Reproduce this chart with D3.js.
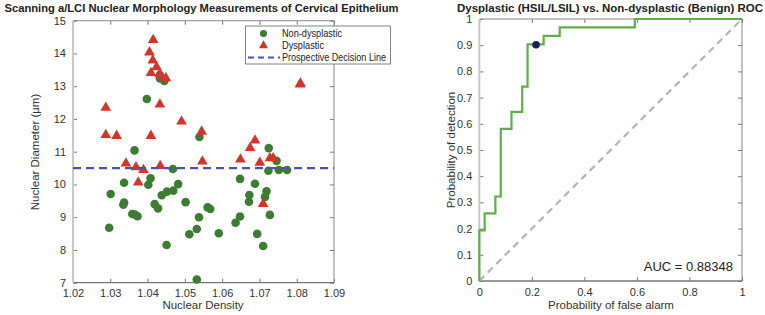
<!DOCTYPE html>
<html>
<head>
<meta charset="utf-8">
<script src="https://cdn.jsdelivr.net/npm/d3@7"></script>
<style>
  body { margin: 0; background: #fff; }
  text { font-family: "Liberation Sans", Arial, sans-serif; }
</style>
</head>
<body>
<div id="chart"></div>
<script>
// scatter data
const nonDysX = [1.0433, 1.0433, 1.0445, 1.0398, 1.0365, 1.0539, 1.0468, 1.0337, 1.0408, 1.0402,
    1.0482, 1.0301, 1.0438, 1.0452, 1.0469, 1.0502, 1.0335, 1.0337, 1.0419, 1.0428,
    1.0359, 1.0366, 1.0373, 1.0538, 1.0297, 1.0532, 1.0512, 1.0591, 1.0451, 1.0532,
    1.0561, 1.0568, 1.0725, 1.0746, 1.0724, 1.0752, 1.0774, 1.0648, 1.0688, 1.0673,
    1.0719, 1.0715, 1.0672, 1.0648, 1.0636, 1.0728, 1.0694, 1.0710];
const nonDysY = [13.34, 13.24, 13.16, 12.61, 11.04, 11.45, 10.47, 10.05, 10.19, 9.99,
    10.01, 9.71, 9.67, 9.78, 9.81, 9.46, 9.38, 9.45, 9.40, 9.27,
    9.10, 9.08, 9.03, 9.00, 8.68, 8.64, 8.48, 8.51, 8.15, 7.10,
    9.30, 9.25, 11.11, 10.72, 10.42, 10.44, 10.44, 10.17, 10.02, 9.68,
    9.79, 9.62, 9.47, 9.02, 8.83, 9.07, 8.49, 8.12];

const dysX = [1.0415, 1.0405, 1.0414, 1.0424, 1.0409, 1.0433, 1.0449, 1.0433, 1.0288, 1.0288,
    1.0317, 1.0409, 1.0491, 1.0545, 1.0547, 1.0342, 1.0369, 1.0389, 1.0434, 1.0375,
    1.0809, 1.0810, 1.0688, 1.0675, 1.0649, 1.0728, 1.0737, 1.0701, 1.0710];
const dysY = [14.43, 14.05, 13.80, 13.60, 13.42, 13.39, 13.26, 12.46, 12.36, 11.53,
    11.50, 11.50, 11.94, 11.63, 10.72, 10.66, 10.54, 10.46, 10.58, 10.08,
    13.07, 13.10, 11.36, 11.13, 10.78, 10.82, 10.82, 10.68, 9.42];

const decisionLine = 10.5;

const scatterXTicks = [1.02, 1.03, 1.04, 1.05, 1.06, 1.07, 1.08, 1.09];
const scatterYTicks = [7, 8, 9, 10, 11, 12, 13, 14, 15];
const legendLabels = ["Non-dysplastic", "Dysplastic", "Prospective Decision Line"];

// ROC curve (false alarm / detection)
const rocFpr = [0, 0, 1/49, 1/49, 3/49, 3/49, 4/49, 4/49, 6/49, 6/49, 8/49, 8/49, 9/49, 9/49,
    12/49, 12/49, 15/49, 15/49, 29/49, 29/49, 1];
const rocTpr = [0, 6/31, 6/31, 8/31, 8/31, 10/31, 10/31, 18/31, 18/31, 20/31, 20/31, 23/31, 23/31, 28/31,
    28/31, 29/31, 29/31, 30/31, 30/31, 1, 1];
const opPoint = [0.216, 0.902];
const aucText = "AUC = 0.88348";

const rocXTicks = [0, 0.2, 0.4, 0.6, 0.8, 1];
const rocYTicks = [0, 0.1, 0.2, 0.3, 0.4, 0.5, 0.6, 0.7, 0.8, 0.9, 1];

const W = 765, H = 315;
const svg = d3.select("#chart").append("svg")
    .attr("width", W).attr("height", H);

function frame(g, x, y, xt, yt, fmtX, fmtY) {
    const [x0, x1] = x.range();
    const [y0, y1] = y.range();
    // ticks inside, on all sides
    g.append("g").attr("transform", `translate(0,${y0})`)
        .call(d3.axisBottom(x).tickValues(xt).tickSizeInner(-4).tickSizeOuter(0).tickPadding(7).tickFormat(fmtX))
        .call(a => a.select(".domain").remove());
    g.append("g").attr("transform", `translate(${x0},0)`)
        .call(d3.axisLeft(y).tickValues(yt).tickSizeInner(-4).tickSizeOuter(0).tickPadding(7).tickFormat(fmtY))
        .call(a => a.select(".domain").remove());
    g.append("g").attr("transform", `translate(0,${y1})`)
        .call(d3.axisTop(x).tickValues(xt).tickSizeInner(-4).tickSizeOuter(0).tickFormat(""))
        .call(a => a.select(".domain").remove());
    g.append("g").attr("transform", `translate(${x1},0)`)
        .call(d3.axisRight(y).tickValues(yt).tickSizeInner(-4).tickSizeOuter(0).tickFormat(""))
        .call(a => a.select(".domain").remove());
    g.selectAll(".tick line").attr("stroke", "#555").attr("stroke-width", 0.8);
    g.selectAll(".tick text").attr("fill", "#333").style("font-size", "11px");

    g.append("line").attr("x1", x0).attr("x2", x1).attr("y1", y1).attr("y2", y1).attr("stroke", "#888");
    g.append("line").attr("x1", x1).attr("x2", x1).attr("y1", y0).attr("y2", y1).attr("stroke", "#888");
    g.append("line").attr("x1", x0).attr("x2", x1).attr("y1", y0).attr("y2", y0).attr("stroke", "#777").attr("stroke-width", 1.3);
    g.append("line").attr("x1", x0).attr("x2", x0).attr("y1", y0).attr("y2", y1).attr("stroke", "#c8c8c8").attr("stroke-width", 2);
}

// ---------------- left: scatter ----------------
const x1 = d3.scaleLinear().domain([1.02, 1.09]).range([73, 334]);
const y1 = d3.scaleLinear().domain([7, 15]).range([282.7, 20.7]);
const left = svg.append("g");

frame(left, x1, y1, scatterXTicks, scatterYTicks, d3.format(".2f"), d3.format("d"));

const nonDys = nonDysX.map((d, i) => ({x: d, y: nonDysY[i]}));
const dys = dysX.map((d, i) => ({x: d, y: dysY[i]}));

left.append("g").selectAll("circle").data(nonDys).join("circle")
    .attr("cx", d => x1(d.x)).attr("cy", d => y1(d.y)).attr("r", 4.3)
    .attr("fill", "#3d7d33");

const tri = d3.symbol().type(d3.symbolTriangle).size(50);
left.append("g").selectAll("path").data(dys).join("path")
    .attr("d", tri)
    .attr("transform", d => `translate(${x1(d.x)},${y1(d.y) + 0.5})`)
    .attr("fill", "#d4352a");

left.append("line")
    .attr("x1", x1(1.02)).attr("x2", x1(1.09))
    .attr("y1", y1(decisionLine)).attr("y2", y1(decisionLine))
    .attr("stroke", "#4b4fbd").attr("stroke-width", 2.2)
    .attr("stroke-dasharray", "8,5");

// legend
const lg = left.append("g");
lg.append("rect").attr("x", 245.5).attr("y", 26).attr("width", 145).attr("height", 38)
    .attr("fill", "#fff").attr("stroke", "#666").attr("stroke-width", 0.8);
lg.append("circle").attr("cx", 263.5).attr("cy", 33.5).attr("r", 3.5).attr("fill", "#3d7d33");
lg.append("path").attr("d", d3.symbol().type(d3.symbolTriangle).size(36))
    .attr("transform", "translate(263.5,45.5)").attr("fill", "#d4352a");
lg.append("line").attr("x1", 248).attr("x2", 280).attr("y1", 57.5).attr("y2", 57.5)
    .attr("stroke", "#4b4fbd").attr("stroke-width", 2.2).attr("stroke-dasharray", "6,4");
const legendWidths = [60, 42, 104];
legendLabels.forEach((t, i) => {
    lg.append("text").attr("x", 282).attr("y", 37.3 + i * 11.8).text(t)
        .attr("textLength", legendWidths[i]).attr("lengthAdjust", "spacingAndGlyphs")
        .style("font-size", "10.5px").attr("fill", "#222");
});

left.append("text").attr("x", 201.5).attr("y", 12).attr("text-anchor", "middle")
    .attr("textLength", 394).attr("lengthAdjust", "spacingAndGlyphs")
    .style("font-size", "11.5px").style("font-weight", "bold").attr("fill", "#222")
    .text("Scanning a/LCI Nuclear Morphology Measurements of Cervical Epithelium");
left.append("text").attr("x", 203).attr("y", 309).attr("text-anchor", "middle")
    .style("font-size", "11.5px").attr("fill", "#333").text("Nuclear Density");
left.append("text").attr("transform", "translate(39,152)rotate(-90)").attr("text-anchor", "middle")
    .style("font-size", "11.5px").attr("fill", "#333").text("Nuclear Diameter (µm)");

// ---------------- right: ROC ----------------
const x2 = d3.scaleLinear().domain([0, 1]).range([479.3, 742]);
const y2 = d3.scaleLinear().domain([0, 1]).range([281, 19]);
const right = svg.append("g");

const rocFmt = d => d === 0 || d === 1 ? d : d3.format(".1f")(d);
frame(right, x2, y2, rocXTicks, rocYTicks, rocFmt, rocFmt);

right.append("line")
    .attr("x1", x2(0)).attr("y1", y2(0)).attr("x2", x2(1)).attr("y2", y2(1))
    .attr("stroke", "#b5b5b5").attr("stroke-width", 2.2).attr("stroke-dasharray", "7,5");

const roc = rocFpr.map((d, i) => [d, rocTpr[i]]);
right.append("path").datum(roc)
    .attr("fill", "none").attr("stroke", "#5cb046").attr("stroke-width", 2.2)
    .attr("d", d3.line().x(d => x2(d[0])).y(d => y2(d[1])));

right.append("circle").attr("cx", x2(opPoint[0])).attr("cy", y2(opPoint[1])).attr("r", 3.8)
    .attr("fill", "#1d1f5e");

right.append("text").attr("x", 733).attr("y", 271).attr("text-anchor", "end")
    .style("font-size", "13px").attr("fill", "#222").text(aucText);

right.append("text").attr("x", 610).attr("y", 12).attr("text-anchor", "middle")
    .style("font-size", "11.5px").style("font-weight", "bold").attr("fill", "#222")
    .text("Dysplastic (HSIL/LSIL) vs. Non-dysplastic (Benign) ROC");
right.append("text").attr("x", 611).attr("y", 309).attr("text-anchor", "middle")
    .style("font-size", "11.5px").attr("fill", "#333").text("Probability of false alarm");
right.append("text").attr("transform", "translate(455,150)rotate(-90)").attr("text-anchor", "middle")
    .style("font-size", "11.5px").attr("fill", "#333").text("Probability of detection");
</script>
</body>
</html>
